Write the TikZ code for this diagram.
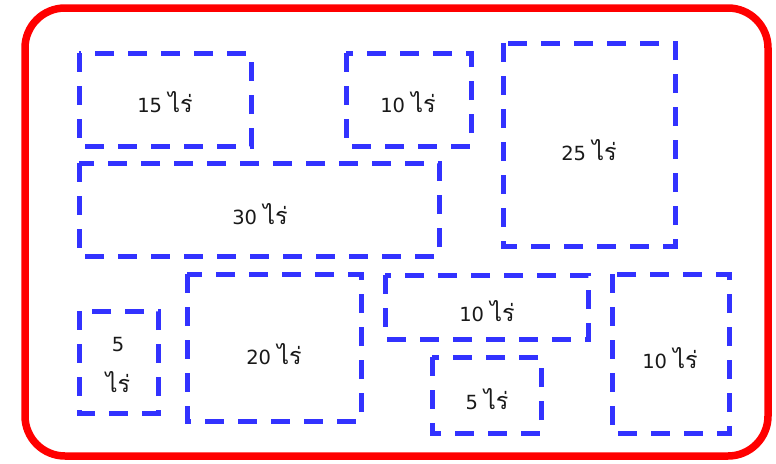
\documentclass[tikz,border=0pt]{standalone}
\usepackage{fontspec}
\setmainfont{DejaVu Sans}
\newfontfamily\thaifont[Script=Thai,Scale=1.2]{Loma}
\newcommand{\rai}{{\thaifont ไร่}}
\definecolor{plotblue}{RGB}{50,50,255}
\begin{document}
\begin{tikzpicture}[x=1pt,y=-1pt,
  plot/.style={draw=plotblue,line width=5pt,dash pattern=on 19pt off 14pt},
  lbl/.style={font=\fontsize{19.5}{23}\selectfont,text=black!90,align=center}]
\useasboundingbox (0,0) rectangle (776,463);
\draw[red,line width=7.5pt,rounded corners=40pt] (25,8) rectangle (768,456);
\draw[plot] (79,53) rectangle (251,146);
\node[lbl] (a) at (165,102) {15 \rai};
\draw[plot] (346,53) rectangle (471,146);
\node[lbl] (b) at (408,102) {10 \rai};
\draw[plot] (503,43) rectangle (675,246);
\node[lbl] (c) at (589,150) {25 \rai};
\draw[plot] (79,163) rectangle (439,256);
\node[lbl] (d) at (260,214) {30 \rai};
\draw[plot] (79,311) rectangle (158,413);
\node[lbl] (e) at (118,345) {5};
\node[lbl] (e2) at (118,382) {\rai};
\draw[plot] (187,274) rectangle (361,421);
\node[lbl] (f) at (274,354) {20 \rai};
\draw[plot] (385,275) rectangle (588,339);
\node[lbl] (g) at (487,311) {10 \rai};
\draw[plot] (432,357) rectangle (541,433);
\node[lbl] (h) at (487,399) {5 \rai};
\draw[plot] (612,274) rectangle (729,433);
\node[lbl] (i) at (670,358) {10 \rai};
\end{tikzpicture}
\end{document}
